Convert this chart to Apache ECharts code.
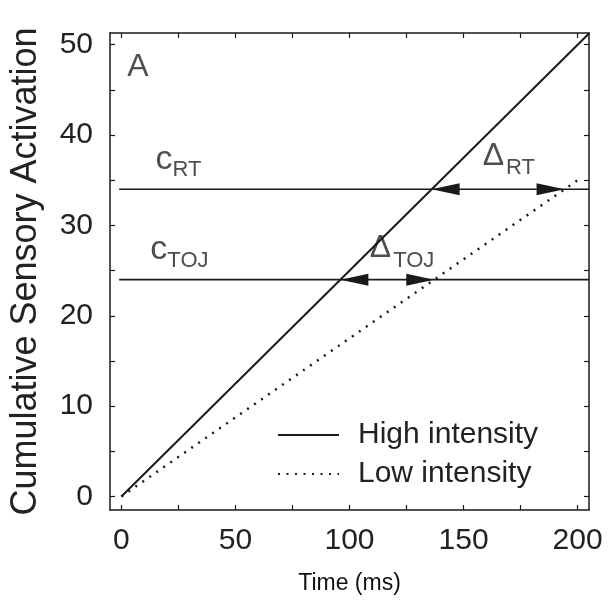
<!DOCTYPE html>
<html>
<head>
<meta charset="utf-8">
<script src="https://cdn.jsdelivr.net/npm/echarts@6/dist/echarts.min.js"></script>
<style>
  html, body { margin: 0; padding: 0; background: #fff; }
  #chart { width: 608px; height: 608px; }
</style>
</head>
<body>
<div id="chart"></div>
<script>
// 数据
var timeTicks = [0, 50, 100, 150, 200];
var timeMinor = [0, 25, 50, 75, 100, 125, 150, 175, 200];
var actTicks = [0, 10, 20, 30, 40, 50];
var actMinor = [0, 5, 10, 15, 20, 25, 30, 35, 40, 45, 50];

var highLine = [[0, 0], [205, 51.25]];
var lowLine = [[0, 0], [200, 35]];
var cRT = 34;
var cTOJ = 24;
var thresholdStart = -1;
var thresholdEnd = 205;

// 注释文字
var noteX = [2.6, 14.9, 12.7, 158.4, 108.9];
var noteY = [45.7, 34.9, 24.9, 35.1, 24.9];
var noteText = ['{a|A}', '{c|c}{s|RT}', '{c|c}{s|TOJ}', '{d|Δ}{s|RT}', '{d|Δ}{s|TOJ}'];

var highSlope = highLine[1][1] / highLine[1][0];
var lowSlope = lowLine[1][1] / lowLine[1][0];

var ink = '#1a1a1a';
var font = 'Liberation Sans, Arial, sans-serif';

// 箭头：尖端在两条线与阈值的交点上
function arrowHeads(level) {
    return [
        { coord: [level / highSlope, level], symbolRotate: 90, symbolOffset: [14, 0] },
        { coord: [level / lowSlope, level], symbolRotate: -90, symbolOffset: [-14, 0] }
    ];
}

var notes = noteX.map(function (x, i) {
    return [x, noteY[i], noteText[i]];
});

var frameAxis = {
    type: 'value',
    axisLine: { show: true, onZero: false, lineStyle: { color: ink, width: 1.5 } },
    axisTick: { show: true, inside: true, length: 5, lineStyle: { color: ink, width: 1.2 } },
    splitLine: { show: false }
};

function thresholdSeries(name, level) {
    return {
        name: name,
        type: 'line',
        symbol: 'none',
        data: [[thresholdStart, level], [thresholdEnd, level]],
        lineStyle: { color: ink, width: 1.6 },
        markPoint: {
            silent: true,
            symbol: 'triangle',
            symbolSize: [12, 28],
            itemStyle: { color: ink },
            label: { show: false },
            data: arrowHeads(level)
        }
    };
}

var mcharts = echarts.init(document.getElementById('chart'));

var option = {
    animation: false,
    textStyle: { fontFamily: font },
    grid: { left: 109, right: 19, top: 33, bottom: 98 },
    legend: {
        orient: 'vertical',
        left: 277,
        top: 420,
        padding: 0,
        itemWidth: 61,
        itemHeight: 14,
        itemGap: 9,
        itemStyle: { opacity: 0 },
        data: ['High intensity', 'Low intensity'],
        textStyle: { fontSize: 30, color: '#222', lineHeight: 30, padding: [0, 0, 0, 14], fontFamily: font }
    },
    xAxis: [
        Object.assign({}, frameAxis, {
            min: -5, max: 205,
            position: 'bottom',
            axisTick: Object.assign({}, frameAxis.axisTick, { customValues: timeMinor }),
            axisLabel: { customValues: timeTicks, fontSize: 30, color: '#222', margin: 16, fontFamily: font },
            name: 'Time (ms)',
            nameLocation: 'middle',
            nameGap: 62,
            nameTextStyle: { fontSize: 23, color: '#111', fontFamily: font }
        }),
        Object.assign({}, frameAxis, {
            min: -5, max: 205,
            position: 'top',
            axisTick: Object.assign({}, frameAxis.axisTick, { customValues: timeMinor }),
            axisLabel: { show: false }
        })
    ],
    yAxis: [
        Object.assign({}, frameAxis, {
            min: -1.5, max: 51.3,
            position: 'left',
            axisTick: Object.assign({}, frameAxis.axisTick, { customValues: actMinor }),
            axisLabel: { customValues: actTicks, fontSize: 30, color: '#222', margin: 17, fontFamily: font },
            name: 'Cumulative Sensory Activation',
            nameLocation: 'middle',
            nameGap: 66,
            nameTextStyle: { fontSize: 36, color: '#222', fontFamily: font }
        }),
        Object.assign({}, frameAxis, {
            min: -1.5, max: 51.3,
            position: 'right',
            axisTick: Object.assign({}, frameAxis.axisTick, { customValues: actMinor }),
            axisLabel: { show: false }
        })
    ],
    series: [
        {
            name: 'High intensity',
            type: 'line',
            symbol: 'none',
            data: highLine,
            lineStyle: { color: ink, width: 2 },
            itemStyle: { color: ink }
        },
        {
            name: 'Low intensity',
            type: 'line',
            symbol: 'none',
            data: lowLine,
            lineStyle: { color: ink, width: 2.5, type: [2, 6.5] },
            itemStyle: { color: ink }
        },
        thresholdSeries('cRT', cRT),
        thresholdSeries('cTOJ', cTOJ),
        {
            name: 'notes',
            type: 'scatter',
            symbolSize: 0,
            data: notes,
            silent: true,
            label: {
                show: true,
                position: 'inside',
                align: 'left',
                verticalAlign: 'bottom',
                formatter: function (p) { return p.data[2]; },
                rich: {
                    a: { fontSize: 32, color: '#222', fontFamily: font },
                    c: { fontSize: 34, color: '#222', fontFamily: font, padding: [0, 0, 5, 0] },
                    d: { fontSize: 32, color: '#222', fontFamily: font, padding: [0, 2, 7, 0] },
                    s: { fontSize: 22, color: '#222', fontFamily: font, verticalAlign: 'bottom' }
                }
            }
        }
    ]
};

mcharts.setOption(option, true);
</script>
</body>
</html>
